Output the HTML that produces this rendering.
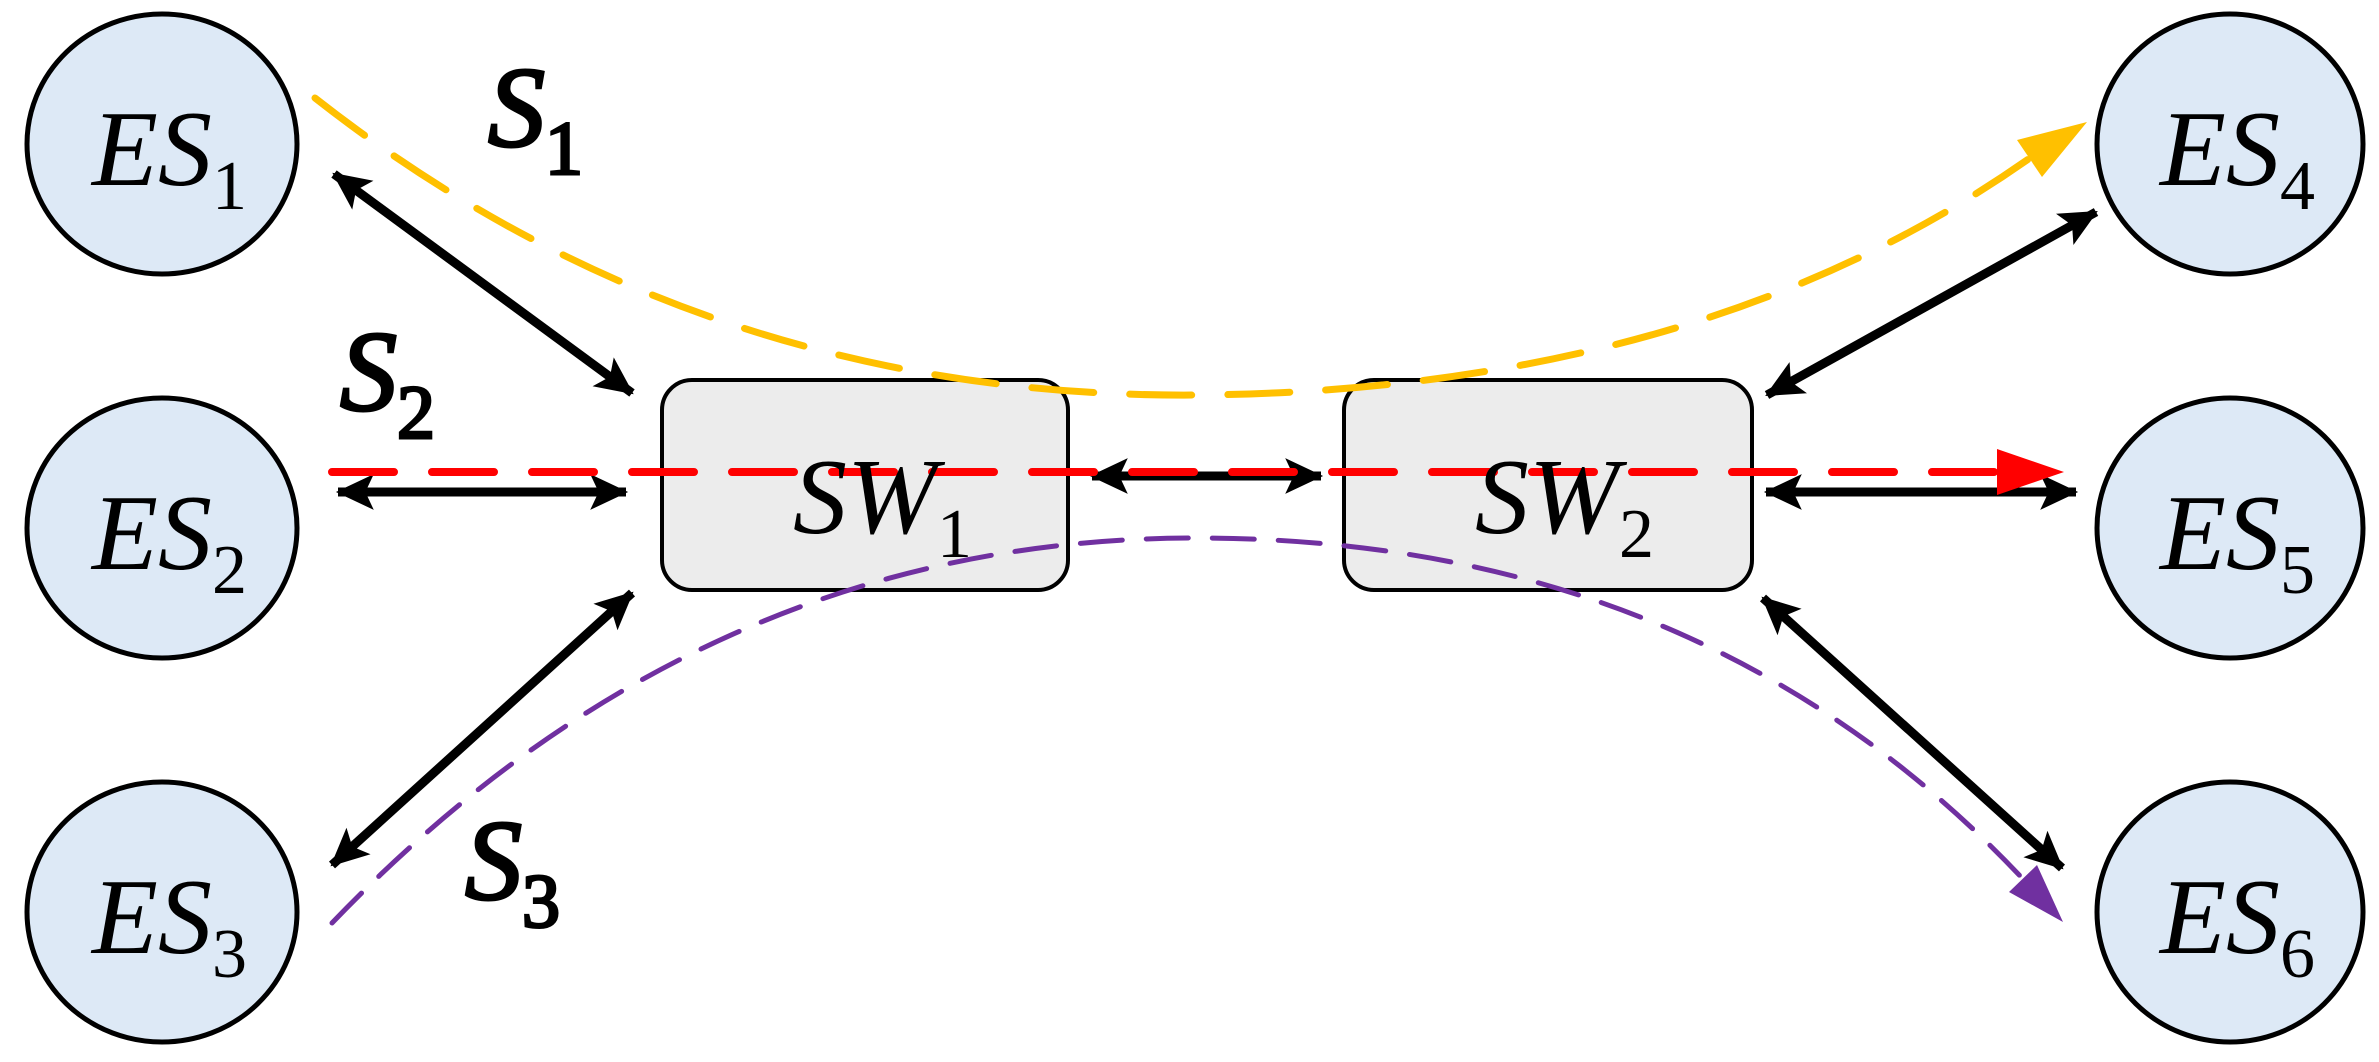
<!DOCTYPE html>
<html><head><meta charset="utf-8"><style>html,body{margin:0;padding:0;background:#fff}svg{display:block}</style></head>
<body>
<svg width="2379" height="1062" viewBox="0 0 2379 1062" xmlns="http://www.w3.org/2000/svg">
<defs>
<marker id="ah" markerUnits="userSpaceOnUse" markerWidth="40" markerHeight="40" refX="34" refY="17" orient="auto-start-reverse" viewBox="0 0 38 34">
<path d="M0,0 L36,17 L0,34 L8,17 Z" fill="#000"/>
</marker>
</defs>
<g fill="#dde9f6" stroke="#000" stroke-width="5">
<ellipse cx="162" cy="144" rx="135" ry="130"/>
<ellipse cx="162" cy="528" rx="135" ry="130"/>
<ellipse cx="162" cy="912" rx="135" ry="130"/>
<ellipse cx="2230" cy="144" rx="133" ry="130"/>
<ellipse cx="2230" cy="528" rx="133" ry="130"/>
<ellipse cx="2230" cy="912" rx="133" ry="130"/>
</g>
<g fill="#ececec" stroke="#000" stroke-width="4">
<rect x="662" y="380" width="406" height="210" rx="30"/>
<rect x="1344" y="380" width="408" height="210" rx="30"/>
</g>
<g stroke="#000" stroke-width="9" marker-start="url(#ah)" marker-end="url(#ah)">
<line x1="334" y1="174" x2="632" y2="393"/>
<line x1="338" y1="492" x2="626" y2="492"/>
<line x1="332" y1="865" x2="632" y2="593"/>
<line x1="1092" y1="476" x2="1321" y2="476"/>
<line x1="1767" y1="395" x2="2096" y2="212"/>
<line x1="1766" y1="492" x2="2076" y2="492"/>
<line x1="1763" y1="598" x2="2062" y2="868"/>
</g>
<path d="M315,98 Q700,400 1200,395 Q1700,390 2030,158" fill="none" stroke="#ffc000" stroke-width="7" stroke-dasharray="62 36" stroke-linecap="round"/>
<polygon points="2087,122 2017,140 2042,177" fill="#ffc000"/>
<line x1="332" y1="472" x2="1997" y2="472" stroke="#ff0000" stroke-width="8" stroke-dasharray="62 38" stroke-linecap="round"/>
<polygon points="2064,472 1997,449 1997,495" fill="#ff0000"/>
<path d="M332,923 Q700,540 1190,538 Q1700,536 2023,879" fill="none" stroke="#7030a0" stroke-width="5" stroke-dasharray="42 24" stroke-linecap="round"/>
<polygon points="2063,922 2037,865 2009,892" fill="#7030a0"/>
<g font-family="Liberation Serif, DejaVu Serif, serif" font-style="italic" font-size="108" fill="#000">
<text x="92" y="185">ES<tspan font-style="normal" font-size="70" dy="24">1</tspan></text>
<text x="92" y="569">ES<tspan font-style="normal" font-size="70" dy="24">2</tspan></text>
<text x="92" y="953">ES<tspan font-style="normal" font-size="70" dy="24">3</tspan></text>
<text x="2160" y="185">ES<tspan font-style="normal" font-size="70" dy="24">4</tspan></text>
<text x="2160" y="569">ES<tspan font-style="normal" font-size="70" dy="24">5</tspan></text>
<text x="2160" y="953">ES<tspan font-style="normal" font-size="70" dy="24">6</tspan></text>
<text x="793" y="533">SW<tspan font-style="normal" font-size="70" dy="24">1</tspan></text>
<text x="1475" y="533">SW<tspan font-style="normal" font-size="70" dy="24">2</tspan></text>
<g stroke="#000" stroke-width="3" font-size="114">
<text x="488" y="146">S<tspan font-style="normal" font-size="76" dy="28">1</tspan></text>
<text x="340" y="410">S<tspan font-style="normal" font-size="76" dy="28">2</tspan></text>
<text x="465" y="899">S<tspan font-style="normal" font-size="76" dy="28">3</tspan></text>
</g>
</g>
</svg>
</body></html>
